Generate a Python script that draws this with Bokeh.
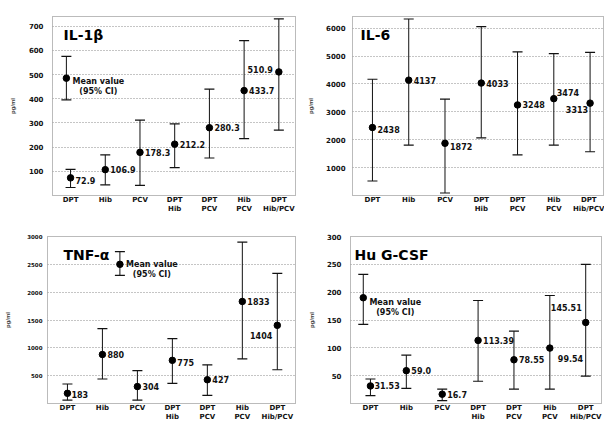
from bokeh.plotting import figure
from bokeh.layouts import column, row
from bokeh.models import Range1d, FixedTicker, Label, ColumnDataSource
from bokeh.embed import file_html
from bokeh.resources import INLINE
from bokeh.core.properties import value

# ---------------- data ----------------
categories = ["DPT", "Hib", "PCV", "DPT\nHib", "DPT\nPCV", "Hib\nPCV", "DPT\nHib/PCV"]

il1b_mean = [72.9, 106.9, 178.3, 212.2, 280.3, 433.7, 510.9]
il1b_low = [33, 44, 42, 115, 155, 235, 270]
il1b_high = [108, 168, 312, 296, 440, 640, 730]
il1b_labels = ["72.9", "106.9", "178.3", "212.2", "280.3", "433.7", "510.9"]
il1b_ticks = [100, 200, 300, 400, 500, 600, 700]
il1b_legend = {"x": [-0.12], "mean": [485], "low": [395], "high": [575]}

il6_mean = [2438, 4137, 1872, 4033, 3248, 3474, 3313]
il6_low = [520, 1810, 90, 2070, 1460, 1810, 1570]
il6_high = [4170, 6330, 3460, 6060, 5150, 5090, 5130]
il6_labels = ["2438", "4137", "1872", "4033", "3248", "3474", "3313"]
il6_ticks = [1000, 2000, 3000, 4000, 5000, 6000]

tnf_mean = [183, 880, 304, 775, 427, 1833, 1404]
tnf_low = [60, 440, 60, 360, 145, 800, 606]
tnf_high = [350, 1345, 590, 1167, 695, 2900, 2337]
tnf_labels = ["183", "880", "304", "775", "427", "1833", "1404"]
tnf_ticks = [500, 1000, 1500, 2000, 2500, 3000]
tnf_legend = {"x": [1.5], "mean": [2500], "low": [2300], "high": [2730]}

gcsf_mean = [31.53, 59.0, 16.7, 113.39, 78.55, 99.54, 145.51]
gcsf_low = [14, 27, 5, 40, 26, 26, 49]
gcsf_high = [44, 87, 26, 185, 130, 194, 250]
gcsf_labels = ["31.53", "59.0", "16.7", "113.39", "78.55", "99.54", "145.51"]
gcsf_ticks = [50, 100, 150, 200, 250, 300]
gcsf_legend = {"x": [-0.2], "mean": [190], "low": [142], "high": [232]}

# label placement styles (dx px, dy px, align)
il1b_lpos = [(5, 3, "left"), (5, 0, "left"), (5, 0, "left"), (5, 0, "left"), (5, 0, "left"), (5, 0, "left"), (-6, -2, "right")]
il6_lpos = [(5, 2, "left"), (5, 0, "left"), (5, 3, "left"), (5, 0, "left"), (5, 0, "left"), (3, -6, "left"), (-2, 6, "right")]
tnf_lpos = [(4, 1, "left"), (5, 0, "left"), (5, 0, "left"), (5, 2, "left"), (5, 0, "left"), (5, 0, "left"), (-5, 10, "right")]
gcsf_lpos = [(4, 0, "left"), (5, 0, "left"), (5, 0, "left"), (5, 0, "left"), (5, 0, "left"), (8, 10, "left"), (-4, -15, "right")]

FONT = "DejaVu Sans"
INK = "#111111"


def make_panel(title, mean, low, high, labels, lpos, ticks, ymax, xr, w, h,
               bl, br, bt, title_dx, tick_font, tick_standoff, label_standoff,
               legend=None, legend_dy=0, legend_dx=6):
    p = figure(width=w, height=h,
               x_range=Range1d(*xr), y_range=Range1d(0, ymax),
               output_backend="svg", toolbar_location=None,
               min_border_left=bl, min_border_right=br, min_border_top=bt, min_border_bottom=0,
               background_fill_color="white", border_fill_color="white")
    p.xgrid.visible = False
    p.ygrid.grid_line_color = "#8a8a8a"
    p.ygrid.grid_line_dash = "1 2"
    p.ygrid.grid_line_width = 1
    p.outline_line_color = "#777777"
    p.outline_line_dash = "1 1"
    p.outline_line_width = 1

    p.xaxis.ticker = FixedTicker(ticks=list(range(len(categories))))
    p.xaxis.major_label_overrides = {i: c for i, c in enumerate(categories)}
    p.yaxis.ticker = FixedTicker(ticks=ticks)
    for ax in (p.xaxis[0], p.yaxis[0]):
        ax.axis_line_color = None
        ax.major_tick_line_color = None
        ax.minor_tick_line_color = None
        ax.major_tick_out = 0
        ax.major_tick_in = 0
        ax.minor_tick_out = 0
        ax.major_label_text_font = FONT
        ax.major_label_text_font_style = "bold"
        ax.major_label_text_color = INK
    p.xaxis.major_label_text_font_size = "7px"
    p.xaxis.major_label_text_line_height = 1.2
    p.xaxis.major_label_standoff = 0
    p.yaxis.major_label_text_font_size = tick_font
    p.yaxis.major_label_standoff = tick_standoff
    p.yaxis.axis_label = "pg/ml"
    p.yaxis.axis_label_text_font = "Liberation Sans"
    p.yaxis.axis_label_text_font_style = "bold"
    p.yaxis.axis_label_text_font_size = "6px"
    p.yaxis.axis_label_standoff = label_standoff

    xs = list(range(len(categories)))
    src = ColumnDataSource(dict(
        x=xs, mean=mean, low=low, high=high, label=labels,
        dx=[a[0] for a in lpos], dy=[a[1] for a in lpos], align=[a[2] for a in lpos]))
    p.segment(x0="x", y0="low", x1="x", y1="high", source=src, line_color=INK, line_width=1)
    p.scatter(x="x", y="low", source=src, marker="dash", size=10, line_color=INK, line_width=1.2)
    p.scatter(x="x", y="high", source=src, marker="dash", size=10, line_color=INK, line_width=1.2)
    p.scatter(x="x", y="mean", source=src, marker="circle", size=6.5, fill_color="black", line_color="black")
    p.text(x="x", y="mean", text="label", source=src, x_offset="dx", y_offset="dy",
           text_align="align", text_baseline="middle", text_font=value(FONT),
           text_font_style="bold", text_font_size="8px", text_color=INK)

    if legend is not None:
        lsrc = ColumnDataSource(legend)
        p.segment(x0="x", y0="low", x1="x", y1="high", source=lsrc, line_color=INK, line_width=1)
        p.scatter(x="x", y="low", source=lsrc, marker="dash", size=10, line_color=INK, line_width=1.2)
        p.scatter(x="x", y="high", source=lsrc, marker="dash", size=10, line_color=INK, line_width=1.2)
        p.scatter(x="x", y="mean", source=lsrc, marker="circle", size=6.5, fill_color="black", line_color="black")
        p.text(x="x", y="mean", text=value("Mean value\n(95% CI)"), source=lsrc,
               x_offset=legend_dx + 26, y_offset=legend_dy - 4, text_align="center", text_baseline="top",
               text_font=value(FONT), text_font_style="bold", text_font_size="8px",
               text_color=INK, text_line_height=1.1)

    p.add_layout(Label(x=xr[0], y=ymax, x_offset=title_dx, y_offset=-18, text=title,
                       text_baseline="middle", text_align="left", text_font=FONT,
                       text_font_style="bold", text_font_size="14px", text_color="black"))
    return p


p1 = make_panel("IL-1β", il1b_mean, il1b_low, il1b_high, il1b_labels, il1b_lpos, il1b_ticks,
                740, (-0.52, 6.48), 305, 216, 52, 10, 15, 11, "7px", 9, 10,
                legend=il1b_legend, legend_dy=3)
p2 = make_panel("IL-6", il6_mean, il6_low, il6_high, il6_labels, il6_lpos, il6_ticks,
                6420, (-0.55, 6.37), 299, 216, 47, 1, 16, 8, "7px", 7, 9)
p3 = make_panel("TNF-α", tnf_mean, tnf_low, tnf_high, tnf_labels, tnf_lpos, tnf_ticks,
                3000, (-0.57, 6.52), 305, 208, 47, 10, 20, 16, "5.5px", 5, 13,
                legend=tnf_legend, legend_dy=0)
p4 = make_panel("Hu G-CSF", gcsf_mean, gcsf_low, gcsf_high, gcsf_labels, gcsf_lpos, gcsf_ticks,
                300, (-0.556, 6.44), 299, 208, 44, 3, 20, 4, "7px", 9, 9,
                legend=gcsf_legend, legend_dy=4)

layout = column(row(p1, p2), row(p3, p4))

open("out.html", "w").write(file_html(layout, INLINE))
